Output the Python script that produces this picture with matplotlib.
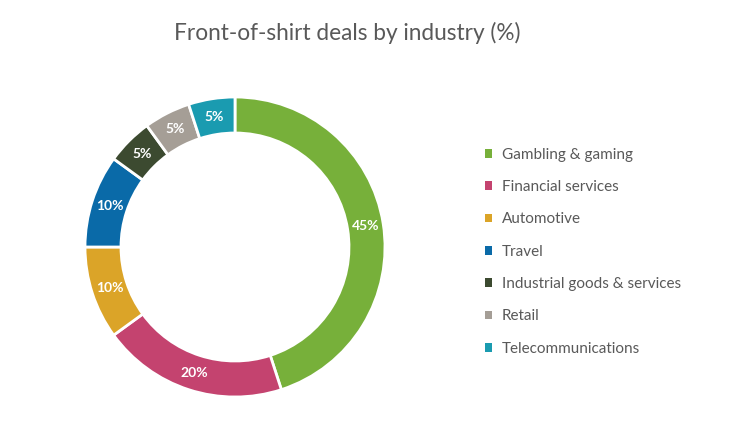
import matplotlib
matplotlib.use("Agg")
import matplotlib.pyplot as plt
from matplotlib.patches import Patch
import numpy as np

industries = ["Gambling & gaming", "Financial services", "Automotive", "Travel",
              "Industrial goods & services", "Retail", "Telecommunications"]
shares = [45, 20, 10, 10, 5, 5, 5]
colors = ["#77b03a", "#c4436f", "#dba428", "#0a6aa8", "#3c4a30", "#a59e96", "#1a9bb0"]

plt.rcParams['font.family'] = ['Lato', 'DejaVu Sans']

fig = plt.figure(figsize=(7.4, 4.3), dpi=100)
fig.patch.set_facecolor("white")

ax = fig.add_axes([85 / 740, 33 / 430, 300 / 740, 300 / 430])
wedges, texts = ax.pie(shares, colors=colors, startangle=90, counterclock=False,
                       radius=1.0,
                       wedgeprops=dict(width=0.24, edgecolor="white", linewidth=2))
ax.set_xlim(-1, 1)
ax.set_ylim(-1, 1)
ax.set_aspect("equal")

# percentage labels in the middle of the ring
ang = 90.0
for v, w in zip(shares, wedges):
    mid = ang - v * 3.6 / 2
    ang -= v * 3.6
    r = 0.88
    ax.text(r * np.cos(np.radians(mid)), r * np.sin(np.radians(mid)), f"{v}%",
            ha="center", va="center", color="white", fontsize=10, fontweight="bold")

fig.text(347 / 740, 1 - 33 / 430, "Front-of-shirt deals by industry (%)",
         ha="center", va="center", fontsize=16.3, color="#595959")

handles = [Patch(facecolor=c, edgecolor="none") for c in colors]
fig.legend(handles, industries, loc="upper left", bbox_to_anchor=(471 / 740, 1 - 134 / 430),
           frameon=False, handlelength=0.5, handleheight=0.5, handletextpad=0.6,
           labelspacing=1.2, fontsize=11, labelcolor="#595959")

fig.savefig("out.png", dpi=100)
